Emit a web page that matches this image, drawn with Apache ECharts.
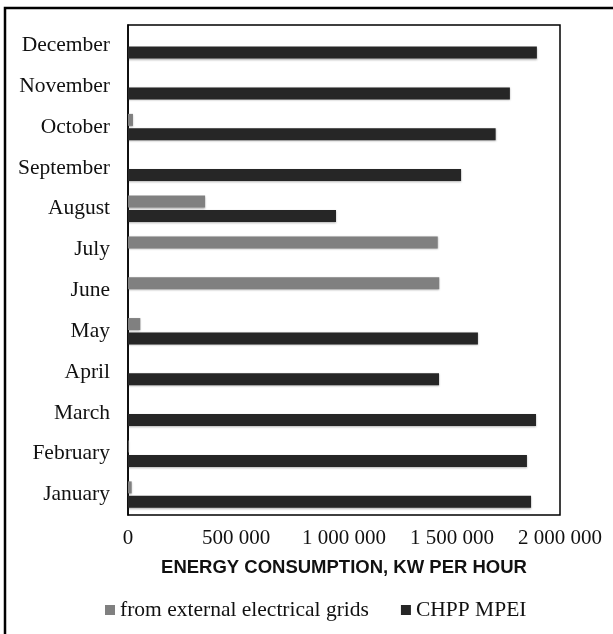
<!DOCTYPE html>
<html>
<head>
<meta charset="utf-8">
<script src="https://cdn.jsdelivr.net/npm/echarts@6/dist/echarts.min.js"></script>
<style>
  html, body { margin: 0; padding: 0; background: #fff; }
  #chart { width: 613px; height: 634px; }
</style>
</head>
<body>
<div id="chart"></div>
<script>
const months = ['January', 'February', 'March', 'April', 'May', 'June',
  'July', 'August', 'September', 'October', 'November', 'December'];
const gridValues = [17000, 3000, 0, 0, 57000, 1441000, 1434000, 357000, 0, 23000, 0, 0];
const chppValues = [1866000, 1847000, 1889000, 1440000, 1620000, 0, 0, 963000, 1542000, 1702000, 1768000, 1893000];
const xTicks = [0, 500000, 1000000, 1500000, 2000000];

!function () {
  let myChart = echarts.init(document.getElementById('chart'));

  const serif = 'Liberation Serif';
  // thousands with a space, as in the source figure
  const fmt = v => String(v).replace(/\B(?=(\d{3})+(?!\d))/g, ' ');

  let option = {
    animation: false,
    graphic: [{
      type: 'rect',
      shape: { x: 5, y: 8, width: 640, height: 660 },
      style: { fill: 'none', stroke: '#000', lineWidth: 2.5 }
    }],
    grid: {
      left: 128, top: 25, right: 53, bottom: 119,
      show: true, borderColor: '#000', borderWidth: 1.5
    },
    legend: {
      top: 594, left: 100,
      itemWidth: 10, itemHeight: 10, itemGap: 32,
      icon: 'rect',
      textStyle: { fontFamily: serif, fontSize: 21.5, color: '#111' },
      data: ['from external electrical grids', 'CHPP MPEI']
    },
    xAxis: {
      type: 'value',
      min: xTicks[0], max: xTicks[xTicks.length - 1], interval: 500000,
      name: 'ENERGY CONSUMPTION, KW PER HOUR',
      nameLocation: 'middle', nameGap: 43,
      nameTextStyle: { fontFamily: 'Liberation Sans', fontWeight: 'bold', fontSize: 18.5, color: '#111' },
      axisLine: { show: false },
      axisTick: { show: false },
      splitLine: { show: false },
      axisLabel: {
        fontFamily: serif, fontSize: 21, color: '#111', margin: 13,
        formatter: fmt
      }
    },
    yAxis: {
      type: 'category',
      data: months,
      axisLine: { show: true, lineStyle: { color: '#000', width: 1.5 } },
      axisTick: { show: false },
      axisLabel: { fontFamily: serif, fontSize: 21.5, color: '#111', margin: 18 }
    },
    series: [
      {
        name: 'from external electrical grids',
        type: 'bar',
        data: gridValues,
        barWidth: 12, barGap: '20%',
        itemStyle: {
          color: '#808080',
          shadowColor: 'rgba(0,0,0,0.3)', shadowBlur: 2, shadowOffsetY: 1
        }
      },
      {
        name: 'CHPP MPEI',
        type: 'bar',
        data: chppValues,
        barWidth: 12, barGap: '20%',
        itemStyle: {
          color: '#262626',
          shadowColor: 'rgba(0,0,0,0.3)', shadowBlur: 2, shadowOffsetY: 1
        }
      }
    ]
  };

  myChart && myChart.setOption(option);
}()
</script>
</body>
</html>
